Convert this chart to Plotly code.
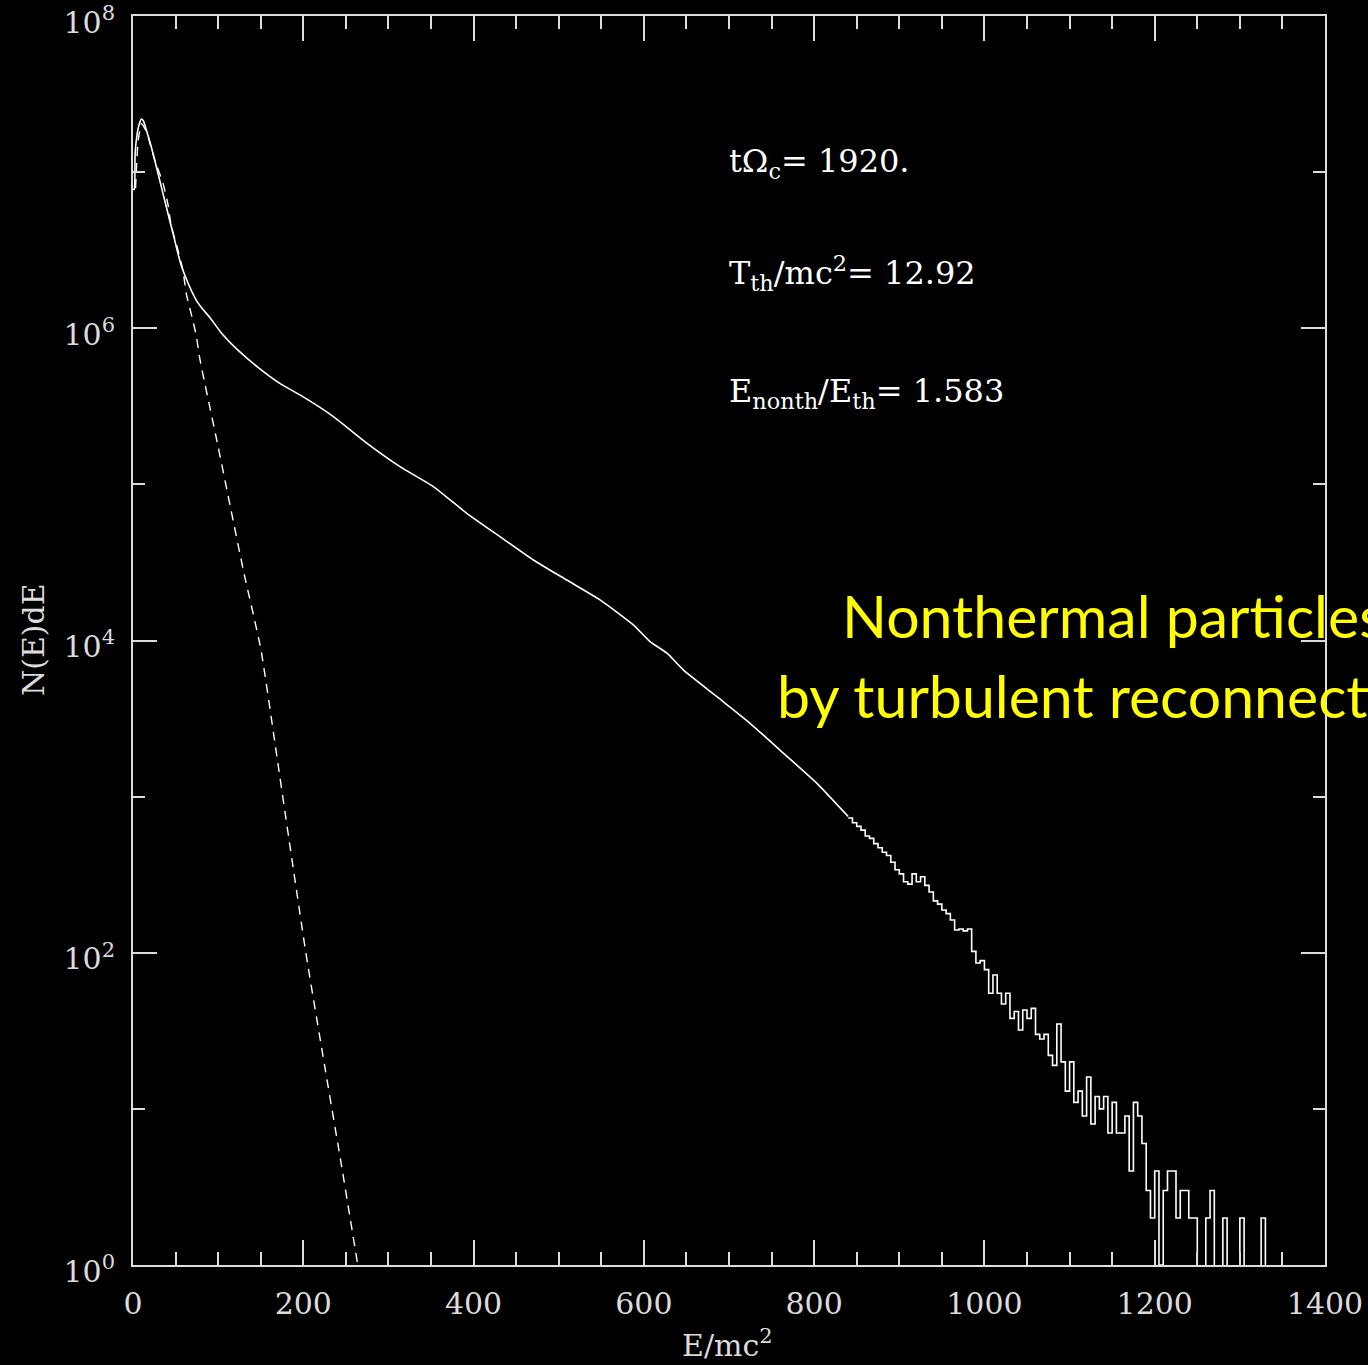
import plotly.graph_objects as go

# ---- smooth part of the energy spectrum (E/mc^2, N(E)dE) ----
smooth_E = [0, 1.5, 2.5, 5, 7, 9.8, 12, 15.7, 21.5, 25.4, 31.3, 37.2, 43.1, 47, 50.9,
            56.8, 64.6, 74.4, 82.2, 90.1, 103.8, 123.3, 146.8, 174.2, 196.1, 235.3,
            274.5, 313.6, 352.7, 392, 431, 470.2, 509.4, 548.5, 587.6, 607.2, 626.8,
            646.3, 685.5, 724.7, 763.8, 803, 840]
smooth_N = [7.76e6, 7.76e6, 1.32e7, 1.78e7, 2.0e7, 2.19e7, 2.14e7, 1.86e7, 1.45e7, 1.20e7,
            8.9e6, 6.6e6, 4.9e6, 4.07e6, 3.31e6, 2.51e6, 1.95e6, 1.51e6, 1.32e6, 1.175e6,
            9.33e5, 7.24e5, 5.62e5, 4.37e5, 3.74e5, 2.72e5, 1.84e5, 1.30e5, 9.68e4,
            6.53e4, 4.63e4, 3.28e4, 2.44e4, 1.82e4, 1.26e4, 9.84e3, 8.32e3, 6.49e3,
            4.38e3, 2.95e3, 1.90e3, 1.22e3, 745]

# ---- noisy high-energy tail: histogram counts, bins of width 5 starting at 840 ----
tail_start = 840
tail_width = 5
tail_counts = [730, 680, 645, 610, 560, 540, 500, 470, 440, 420,
               380, 340, 320, 285, 275, 320, 285, 307, 270, 245,
               215, 205, 188, 178, 162, 140, 142, 138, 142, 102,
               86, 89, 78, 55, 72, 55, 47, 55, 38, 42,
               32, 43, 38, 44, 30, 28, 30, 22, 19, 35,
               20, 13, 20, 11, 13, 9, 16, 8, 12, 10,
               12, 7, 11, 7, 7, 9, 4, 11, 9, 6,
               3, 2, 4, 1, 3, 4, 4, 2, 3, 3,
               2, 2, 0, 0, 2, 3, 0, 0, 2, 0,
               0, 0, 2, 0, 0, 0, 0, 2, 0]

# ---- thermal (Maxwellian) fit, dashed ----
fit_E = [3, 6, 10, 15.7, 25.4, 35.2, 41.1, 45.0, 50.9, 58.7, 62.6, 68.5, 74.4, 78.3,
         83.4, 88.1, 100, 115, 130, 150, 170, 185, 203, 225, 245, 264]
fit_N = [7.9e6, 1.58e7, 2.04e7, 1.82e7, 1.20e7, 8.5e6, 6.2e6, 4.47e6, 3.47e6, 2.34e6,
         1.66e6, 1.23e6, 8.9e5, 6.46e5, 4.68e5, 3.55e5, 1.74e5, 6.9e4, 2.75e4, 8.9e3,
         1.66e3, 457, 100, 19.0, 4.3, 1.0]

x_ticks = [0, 200, 400, 600, 800, 1000, 1200, 1400]
y_ticks = [1, 1e2, 1e4, 1e6, 1e8]
y_ticktext = ["10<sup>0</sup>", "10<sup>2</sup>", "10<sup>4</sup>", "10<sup>6</sup>", "10<sup>8</sup>"]
y_minor = [10, 1e3, 1e5, 1e7]

# empty bins are pushed below the axis so the steps drop to the frame
EMPTY = 0.2
tail_E = [tail_start + i * tail_width for i in range(len(tail_counts) + 1)]
tail_N = [c if c > 0 else EMPTY for c in tail_counts] + [EMPTY]

FG = "#ffffff"
AX = "#dcdcdc"
SERIF = "DejaVu Serif"

fig = go.Figure()
fig.add_trace(go.Scatter(x=smooth_E, y=smooth_N, mode="lines", line_shape="spline",
                         line=dict(color=FG, width=1.6, smoothing=0.5), hoverinfo="skip"))
fig.add_trace(go.Scatter(x=tail_E, y=tail_N, mode="lines", line_shape="hv",
                         line=dict(color=FG, width=1.6), hoverinfo="skip"))
fig.add_trace(go.Scatter(x=fit_E, y=fit_N, mode="lines", line_shape="spline",
                         line=dict(color=FG, width=1.4, dash="9px,7px", smoothing=0.5),
                         hoverinfo="skip"))

fig.update_layout(
    width=1368, height=1365,
    margin=dict(l=133, r=43, t=16, b=100, autoexpand=False),
    paper_bgcolor="black", plot_bgcolor="black",
    showlegend=False,
    font=dict(family=SERIF, color=AX, size=30),
)

fig.update_xaxes(
    range=[0, 1400], tickvals=x_ticks, ticks="inside", ticklen=25, tickwidth=1.5,
    tickcolor=AX, showline=True, linecolor=AX, linewidth=2, mirror="allticks",
    showgrid=False, zeroline=False, ticklabelstandoff=11, ticklabeloverflow="allow",
    automargin=False,
    tickfont=dict(family=SERIF, size=30, color=AX),
    minor=dict(dtick=50, ticks="inside", ticklen=13, tickwidth=1.5, tickcolor=AX, showgrid=False),
)
fig.update_yaxes(
    type="log", range=[0, 8], tickvals=y_ticks, ticktext=y_ticktext, ticks="inside",
    ticklen=24, tickwidth=1.5, tickcolor=AX, showline=True, linecolor=AX, linewidth=2,
    mirror="allticks", showgrid=False, zeroline=False, ticklabelstandoff=10,
    ticklabelshift=6, ticklabeloverflow="allow", automargin=False,
    tickfont=dict(family=SERIF, size=30, color=AX),
    minor=dict(tickvals=y_minor, ticks="inside", ticklen=12, tickwidth=1.5, tickcolor=AX, showgrid=False),
)

def px_x(px):
    return (px - 133) / 1192

def px_y(py):
    return (1265 - py) / 1249

# axis titles
fig.add_annotation(x=px_x(33), y=px_y(640), xref="paper", yref="paper", text="N(E)dE",
                   textangle=-90, showarrow=False, font=dict(family=SERIF, size=30, color=AX),
                   xanchor="center", yanchor="middle")
fig.add_annotation(x=px_x(727), y=px_y(1343), xref="paper", yref="paper", text="E/mc<sup>2</sup>",
                   showarrow=False, font=dict(family=SERIF, size=30, color=AX),
                   xanchor="center", yanchor="middle")

# run parameters
stats = [
    ("tΩ<sub>c</sub>= 1920.", 163),
    ("T<sub>th</sub>/mc<sup>2</sup>= 12.92", 273),
    ("E<sub>nonth</sub>/E<sub>th</sub>= 1.583", 393),
]
for txt, py in stats:
    fig.add_annotation(x=px_x(727), y=px_y(py), xref="paper", yref="paper", text=txt,
                       showarrow=False, font=dict(family=SERIF, size=32, color=FG),
                       xanchor="left", yanchor="middle")

# caption, running off the right edge of the page
YEL = "#ffff00"
fig.add_annotation(x=px_x(840), y=px_y(615), xref="paper", yref="paper",
                   text="Nonthermal particles", showarrow=False,
                   font=dict(family="Lato", size=59, color=YEL), xanchor="left", yanchor="middle")
fig.add_annotation(x=px_x(775), y=px_y(695), xref="paper", yref="paper",
                   text="by turbulent reconnection", showarrow=False,
                   font=dict(family="Lato", size=59, color=YEL), xanchor="left", yanchor="middle")

fig.write_html("out.html")
